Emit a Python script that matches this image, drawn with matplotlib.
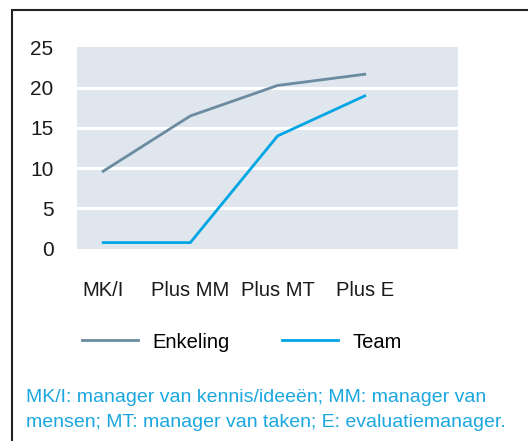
import matplotlib
matplotlib.use("Agg")
import matplotlib.pyplot as plt
from matplotlib.patches import Rectangle
import numpy as np

categorieen = ["MK/I", "Plus MM", "Plus MT", "Plus E"]
enkeling = [9.6, 16.5, 20.3, 21.7]
team = [0.7, 0.7, 14.0, 19.0]
yticks = [0, 5, 10, 15, 20, 25]
voetnoot = ("MK/I: manager van kennis/ideeën; MM: manager van\n"
            "mensen; MT: manager van taken; E: evaluatiemanager.")

kleur_enkeling = "#6a8ba0"
kleur_team = "#00a6e4"
kleur_achtergrond = "#dfe6ed"

plt.rcParams["font.family"] = ["Liberation Sans", "DejaVu Sans"]

W, H = 528, 441
fig = plt.figure(figsize=(W / 100, H / 100), dpi=100)
ax = fig.add_axes([77 / W, 1 - 249 / H, (458 - 77) / W, (249 - 47) / H])

x = np.arange(len(categorieen))
ax.set_facecolor(kleur_achtergrond)
for v in yticks[1:-1]:
    ax.axhline(v, color="white", lw=2.2, zorder=1)
ax.plot(x, enkeling, color=kleur_enkeling, lw=2, label="Enkeling", zorder=3)
ax.plot(x, team, color=kleur_team, lw=2, label="Team", zorder=3)

ax.set_xlim(-0.30, 4.07)
ax.set_ylim(-0.1, 25.1)
ax.set_yticks(yticks)
ax.set_xticks(x)
ax.set_xticklabels(categorieen)
ax.tick_params(length=0, colors="#1a1a1a")
ax.tick_params(axis="y", pad=17, labelsize=15)
ax.tick_params(axis="x", pad=23, labelsize=14.5)
for s in ax.spines.values():
    s.set_visible(False)

fig.legend(loc="center left", bbox_to_anchor=(82 / W, 1 - 342 / H), ncol=2,
           frameon=False, fontsize=14.5, handlelength=2.8, columnspacing=2.6,
           handletextpad=0.7, borderaxespad=0, borderpad=0)

fig.text(26 / W, 1 - 410 / H, voetnoot, color="#1aa7e0", fontsize=14,
         va="center", ha="left", linespacing=1.6)

fig.patches.append(Rectangle((11.5 / W, -0.1), 2, 1 - 9.5 / H + 0.1,
                             transform=fig.transFigure, fill=False,
                             edgecolor="#222222", lw=1.5))

fig.savefig("out.png", dpi=100)
